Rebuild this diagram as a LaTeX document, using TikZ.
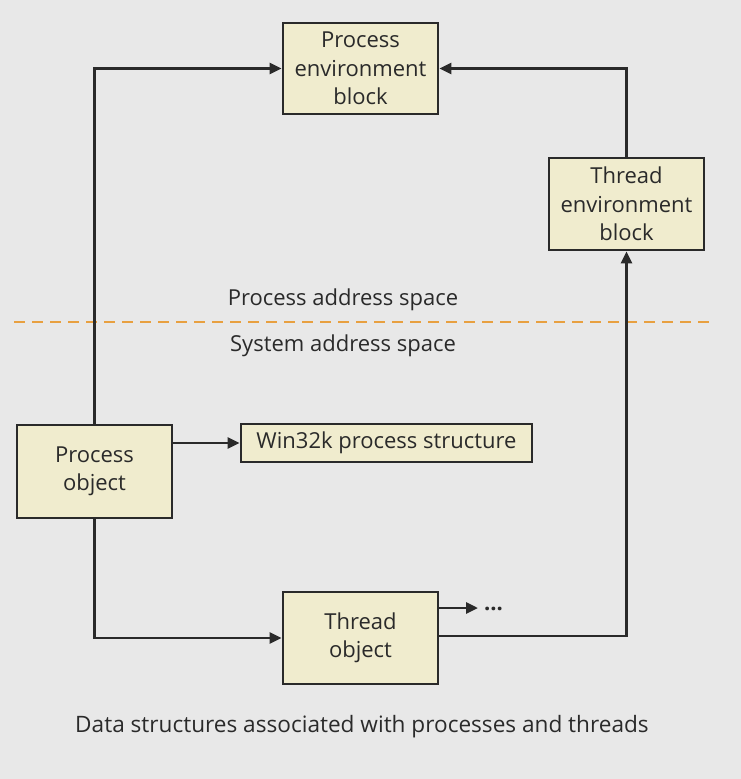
\documentclass[tikz,border=0pt]{standalone}
\usepackage{fontspec}
\setmainfont{Open Sans}
\usetikzlibrary{arrows.meta}
\definecolor{bg}{HTML}{E8E8E8}
\definecolor{boxfill}{HTML}{F0ECCE}
\definecolor{boxline}{HTML}{2A2A2A}
\definecolor{dashorange}{HTML}{E8A040}
\tikzset{
  box/.style={draw=boxline, fill=boxfill, line width=2.8pt, align=center, inner sep=0pt, font=\fontsize{22}{28.5}\selectfont, text=boxline},
  conn/.style={draw=boxline, line width=2.8pt, -{Triangle[length=12pt,width=11pt]}},
  lbl/.style={font=\fontsize{22}{26}\selectfont, text=boxline}
}
\begin{document}
\begin{tikzpicture}[x=1pt,y=-1pt]
\fill[bg] (0,0) rectangle (741,779);
\useasboundingbox (0,0) rectangle (741,779);
\node[box, minimum width=155pt, minimum height=91pt] (peb) at (360.5,68.5) {Process\\environment\\block};
\node[box, minimum width=155pt, minimum height=92pt] (teb) at (626.5,204) {Thread\\environment\\block};
\node[box, minimum width=155pt, minimum height=93pt] (po) at (94.5,471.5) {Process\\object};
\node[box, minimum width=291pt, minimum height=38pt] (w32) at (386.5,443) {Win32k process structure};
\node[box, minimum width=155pt, minimum height=92pt] (to) at (360.5,638) {Thread\\object};
\draw[dashorange, line width=2.6pt, dash pattern=on 11pt off 7pt] (14,322) -- (711,322);
\node[lbl] (pas) at (343,300) {Process address space};
\node[lbl] (sas) at (343,346) {System address space};
\node[lbl, font=\fontsize{22.6}{26}\selectfont] (cap) at (362,727) {Data structures associated with processes and threads};
\coordinate (dots) at (478,608);
\node[lbl, anchor=west, inner sep=0pt] (dt) at (484,609) {\textbf{...}};
\draw[conn] (po.north) |- (peb.west);
\draw[conn] (teb.north) |- (peb.east);
\draw[conn] (po.east |- w32) -- (w32.west);
\draw[conn] (po.south) |- (to.west);
\draw[conn] (to.east |- 0,636) -| (teb.south);
\draw[conn] (to.east |- dots) -- (dots);
\end{tikzpicture}
\end{document}
